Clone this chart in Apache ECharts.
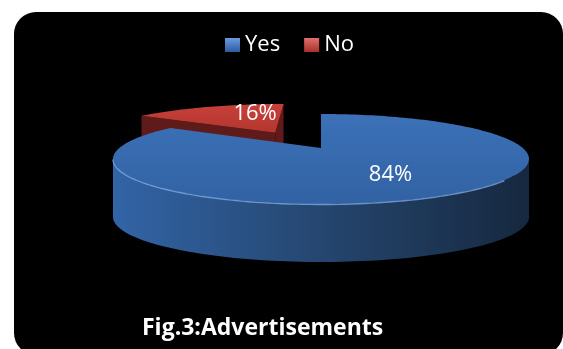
<!DOCTYPE html>
<html>
<head>
<meta charset="utf-8">
<script src="https://cdn.jsdelivr.net/npm/echarts@6/dist/echarts.min.js"></script>
<style>
  html, body { margin: 0; padding: 0; background: #fff; overflow: hidden; }
  #panel { position: absolute; left: 14px; top: 12px; width: 549px; height: 343px; background: #000; border-radius: 22px; }
  #chart { position: absolute; left: 0; top: 0; width: 563px; height: 349px; }
</style>
</head>
<body>
<div id="panel"></div>
<div id="chart"></div>
<script>
// Survey answers
const categories = ['Yes', 'No'];
const shares = [84, 16];
const valueLabels = ['84%', '16%'];

// Slice colours: top face gradient, side wall gradient, cut face, legend swatch
const palette = [
  { top: ['#3c71b8', '#3162a3'], wall: ['#3264a6', '#25466f', '#16283f'], cut: '#1e3a62', rim: 'rgba(130,175,235,0.75)', swatch: ['#6a9be0', '#2c5c9e'] },
  { top: ['#c8403a', '#b3362f'], wall: ['#8a2823', '#6a1f1b', '#4a1512'], cut: '#5e1b19', rim: 'rgba(235,140,130,0.6)', swatch: ['#e0706a', '#a8302a'] }
];

// Layout of the tilted disc and its slices
const CX = 321, CY = 148, RX = 201.7, RY = 42.3, PERSP = 0.2445, THICK = 58;
const pullOut = [0, 0.47];        // explosion distance (fraction of radius)
const pullTurn = [0, -3.2];       // explosion direction relative to slice middle (deg)
const labelRadius = [0.62, 0.62]; // label distance from slice apex
const labelAt = [0.5, 0.745];     // label angle, as fraction across the slice

function proj(X, Z, dy) {
  const k = 1 / (1 - PERSP * Z);
  return [CX + RX * X * k, CY + RY * Z * k + (dy || 0)];
}

const total = shares.reduce((a, b) => a + b, 0);
const slices = [];
let acc = -90;
shares.forEach((v, i) => {
  const span = v / total * 360;
  const a0 = acc, a1 = acc + span;
  acc = a1;
  const dir = ((a0 + a1) / 2 + pullTurn[i]) * Math.PI / 180;
  const lab = (a0 + (a1 - a0) * labelAt[i]) * Math.PI / 180;
  slices.push({ a0, a1, lab, ox: pullOut[i] * Math.cos(dir), oz: pullOut[i] * Math.sin(dir) });
});

function arcPts(s, from, to, dy) {
  const n = Math.max(2, Math.ceil(Math.abs(to - from) / 1.5));
  const pts = [];
  for (let j = 0; j <= n; j++) {
    const a = (from + (to - from) * j / n) * Math.PI / 180;
    pts.push(proj(s.ox + Math.cos(a), s.oz + Math.sin(a), dy));
  }
  return pts;
}

// Front part of the rim that faces the viewer
const silR = Math.asin(PERSP) * 180 / Math.PI;
const silL = 180 - silR;

function visibleWall(s) {
  for (const shift of [-360, 0, 360]) {
    const lo = Math.max(s.a0, silR + shift), hi = Math.min(s.a1, silL + shift);
    if (hi > lo) return [lo, hi];
  }
  return null;
}

function renderSlice(i) {
  const s = slices[i];
  const c = palette[i];
  const children = [];
  const apexTop = proj(s.ox, s.oz, 0);
  const apexBot = proj(s.ox, s.oz, THICK);
  const camZ = 1 / PERSP;

  // cut faces that turn towards the viewer
  [[s.a0, 1], [s.a1, -1]].forEach(([ang, sign]) => {
    const a = ang * Math.PI / 180;
    const nx = sign * Math.sin(a), nz = -sign * Math.cos(a);
    const mx = s.ox + 0.5 * Math.cos(a), mz = s.oz + 0.5 * Math.sin(a);
    const dot = nx * (0 - mx) + nz * (camZ - mz);
    if (dot <= 1e-6) return;
    const rimTop = proj(s.ox + Math.cos(a), s.oz + Math.sin(a), 0);
    const rimBot = proj(s.ox + Math.cos(a), s.oz + Math.sin(a), THICK);
    children.push({ type: 'polygon', shape: { points: [apexTop, rimTop, rimBot, apexBot] }, style: { fill: c.cut } });
  });

  // outer wall, lit from the left
  const w = visibleWall(s);
  if (w) {
    const top = arcPts(s, w[0], w[1], 0);
    const bot = arcPts(s, w[1], w[0], THICK);
    children.push({
      type: 'polygon', shape: { points: top.concat(bot) },
      style: { fill: { type: 'linear', x: 0, y: 0, x2: 1, y2: 0, colorStops: [
        { offset: 0, color: c.wall[0] }, { offset: 0.5, color: c.wall[1] }, { offset: 1, color: c.wall[2] }] } }
    });
  }

  // top face
  children.push({
    type: 'polygon', shape: { points: [apexTop].concat(arcPts(s, s.a0, s.a1, 0)) },
    style: { fill: { type: 'linear', x: 0, y: 0, x2: 0, y2: 1, colorStops: [
      { offset: 0, color: c.top[0] }, { offset: 1, color: c.top[1] }] } }
  });

  // bevel highlight along the front edge
  if (w) {
    children.push({
      type: 'polyline', shape: { points: arcPts(s, Math.max(w[0], 40), w[1], 0.5) },
      style: { stroke: c.rim, lineWidth: 1.4, fill: null }
    });
  }

  // value label
  const lp = proj(s.ox + labelRadius[i] * Math.cos(s.lab), s.oz + labelRadius[i] * Math.sin(s.lab), 0);
  children.push({
    type: 'text', x: lp[0], y: lp[1],
    style: { text: valueLabels[i], fill: '#fff', fontSize: 22, fontFamily: 'Open Sans', align: 'center', verticalAlign: 'middle' }
  });

  return { type: 'group', children };
}

const swatch = (c) => ({ type: 'linear', x: 0, y: 0, x2: 0, y2: 1, colorStops: [{ offset: 0, color: c[0] }, { offset: 1, color: c[1] }] });

const chart = echarts.init(document.getElementById('chart'), null, { renderer: 'canvas' });
chart.setOption({
  backgroundColor: 'transparent',
  animation: false,
  title: {
    text: 'Fig.3:Advertisements', left: 137, top: 312,
    textStyle: { color: '#fff', fontSize: 23, fontWeight: 'bold', fontFamily: 'Open Sans' }
  },
  legend: {
    left: 220, top: 29, itemWidth: 15, itemHeight: 14, itemGap: 24, icon: 'rect',
    data: categories.map((name, i) => ({ name, itemStyle: { color: swatch(palette[i].swatch) } })),
    textStyle: { color: '#fff', fontSize: 22, fontFamily: 'Open Sans' }
  },
  series: categories.map((name, i) => ({
    type: 'custom', name, coordinateSystem: 'none', silent: true,
    z: i === 0 ? 3 : 2,
    itemStyle: { color: swatch(palette[i].swatch) },
    data: [[shares[i]]],
    renderItem: () => renderSlice(i)
  }))
});
</script>
</body>
</html>
